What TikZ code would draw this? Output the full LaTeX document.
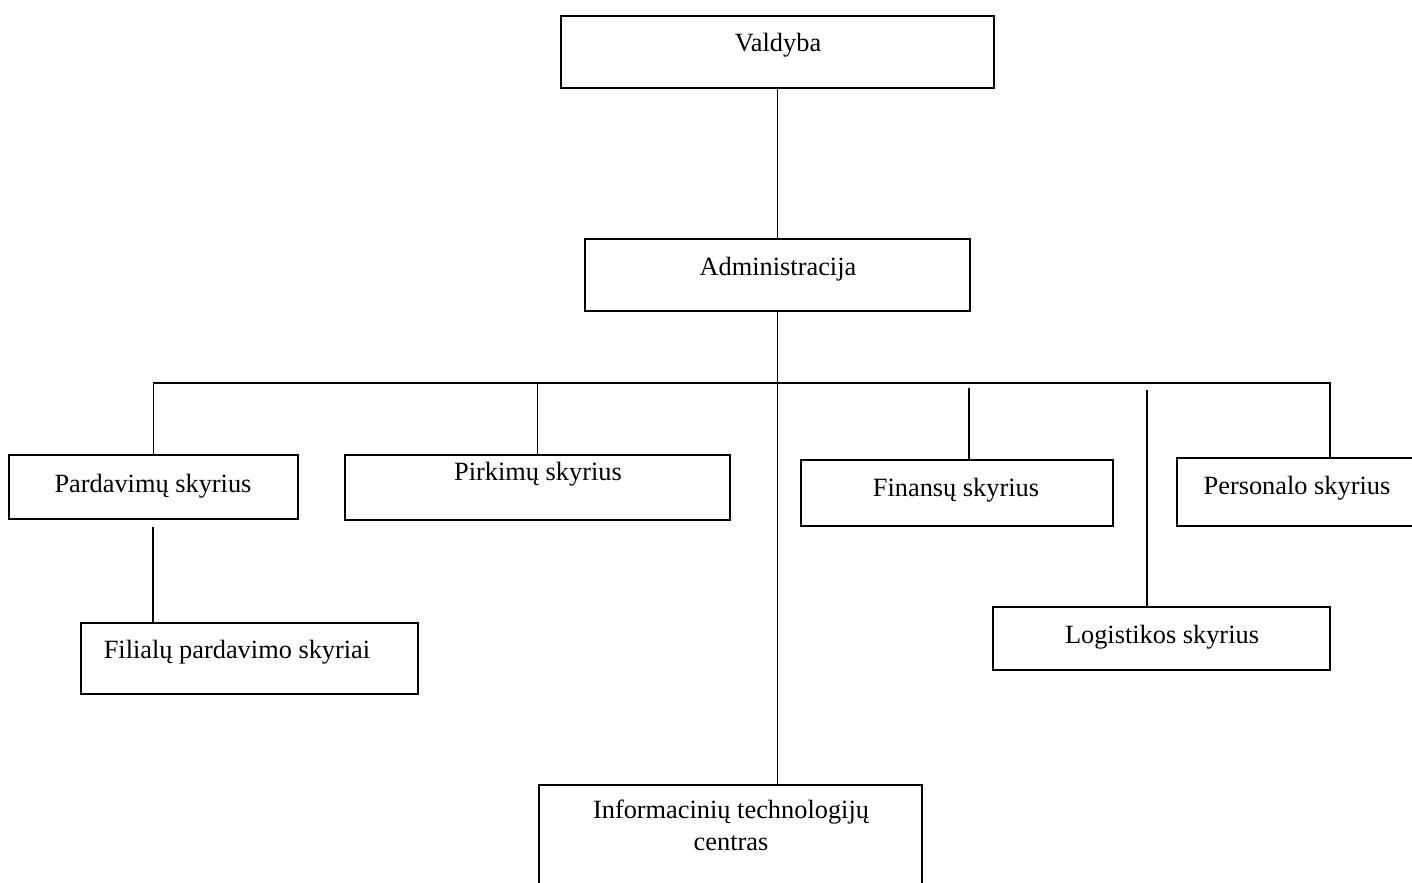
\documentclass[tikz,border=0pt]{standalone}
\usepackage{fontspec}
\setmainfont{Liberation Serif}
\usetikzlibrary{fit}

\begin{document}
\begin{tikzpicture}[x=0.02cm,y=-0.02cm,
    box/.style={draw,line width=1.1pt,inner sep=0pt},
    conn/.style={line width=1.1pt},
    lbl/.style={inner sep=0pt,anchor=base,font=\fontsize{15}{18}\selectfont}]

\useasboundingbox (0,0) rectangle (1412,882);

% boxes
\node[box,fit={(561,16) (994,88)}] (valdyba) {};
\node[box,fit={(585,239) (970,311)}] (admin) {};
\node[box,fit={(9,455) (298,519)}] (pard) {};
\node[box,fit={(345,455) (730,520)}] (pirk) {};
\node[box,fit={(81,623) (418,694)}] (fil) {};
\node[box,fit={(801,460) (1113,526)}] (fin) {};
\node[box,fit={(1177,458) (1440,526)}] (pers) {};
\node[box,fit={(993,607) (1330,670)}] (logist) {};
\node[box,fit={(539,785) (922,900)}] (it) {};

% texts
\node[lbl] (valdybaT) at (778,52) {Valdyba};
\node[lbl] (adminT) at (778,275) {Administracija};
\node[lbl] (pardT) at (153,492) {Pardavimų skyrius};
\node[lbl] (pirkT) at (538,480) {Pirkimų skyrius};
\node[lbl] (filT) at (237,658) {Filialų pardavimo skyriai};
\node[lbl] (finT) at (956,496) {Finansų skyrius};
\node[lbl] (persT) at (1297,494) {Personalo skyrius};
\node[lbl] (logistT) at (1162,643) {Logistikos skyrius};
\node[lbl,anchor=north,align=center] (itT) at (731,800) {Informacinių technologijų\\centras};

% connectors
\coordinate (bar) at (0,383);
\coordinate (persIn) at (1330,458);
\coordinate (finIn) at (969,388);
\coordinate (logIn) at (1147,390);
\coordinate (pardOut) at (153,527);

\draw[conn] (valdyba.south) -- (admin.north);
\draw[conn] (admin.south) -- (admin.south |- it.north);
\draw[conn] (pard.north) -- (pard.north |- bar) -- (bar -| persIn) -- (persIn);
\draw[conn] (pirk.north) -- (pirk.north |- bar);
\draw[conn] (finIn) -- (finIn |- fin.north);
\draw[conn] (logIn) -- (logIn |- logist.north);
\draw[conn] (pardOut) -- (pardOut |- fil.north);
%\draw[conn] (fin.north) -- (fin.north |- bar);
\end{tikzpicture}
\end{document}
